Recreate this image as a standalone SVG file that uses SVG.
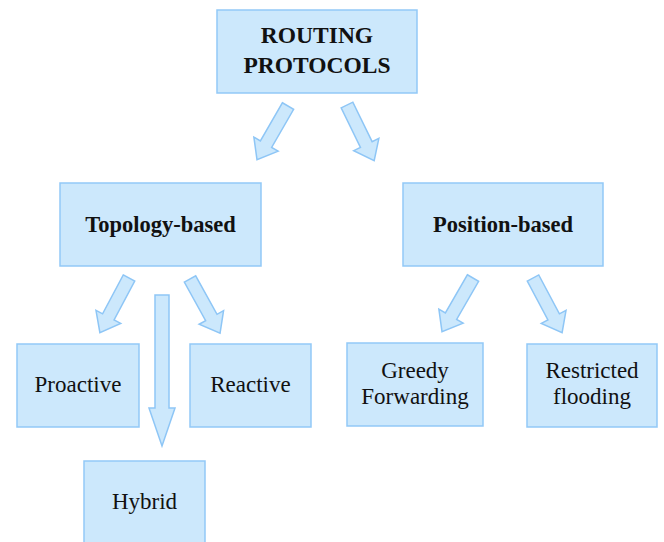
<svg xmlns="http://www.w3.org/2000/svg" width="664" height="542" viewBox="0 0 664 542">
<defs>
<style>
.box{fill:#cce8fc;stroke:#92c9f7;stroke-width:1.5}
.arr{fill:#cce8fc;stroke:#8ec6f6;stroke-width:1.5;stroke-linejoin:miter}
text{font-family:'Liberation Serif','DejaVu Serif',serif;fill:#111;text-anchor:middle}
.b{font-weight:bold;font-size:22.5px}
.t{font-weight:bold;font-size:23.5px}
.r{font-size:23px}
</style>
<polygon id="da" points="-6.5,0 6.5,0 6.5,44 14,44 0,62 -14,44 -6.5,44"/>
</defs>
<rect width="664" height="542" fill="#ffffff"/>
<g id="connectors">
<use href="#da" class="arr" transform="translate(288,106) rotate(30)"/>
<use href="#da" class="arr" transform="translate(347,105) rotate(-26)"/>
<use href="#da" class="arr" transform="translate(129,278) rotate(28)"/>
<use href="#da" class="arr" transform="translate(190,279) rotate(-29)"/>
<use href="#da" class="arr" transform="translate(473,278) rotate(30)"/>
<use href="#da" class="arr" transform="translate(533,278) rotate(-28)"/>
<polygon class="arr" points="155,295 169,295 169,408 175,408 162,446 149,408 155,408"/>
</g>
<g id="routing">
<rect class="box" x="217" y="10" width="200" height="83"/>
<text class="t" x="317" y="43">ROUTING</text>
<text class="t" x="317" y="73">PROTOCOLS</text>
</g>
<g id="topology">
<rect class="box" x="60" y="183" width="201" height="83"/>
<text class="b" x="160.5" y="232">Topology-based</text>
</g>
<g id="position">
<rect class="box" x="403" y="183" width="200" height="83"/>
<text class="b" x="503" y="232">Position-based</text>
</g>
<g id="proactive">
<rect class="box" x="17" y="344" width="122" height="83"/>
<text class="r" x="78" y="392">Proactive</text>
</g>
<g id="reactive">
<rect class="box" x="190" y="344" width="121" height="83"/>
<text class="r" x="250.5" y="392">Reactive</text>
</g>
<g id="hybrid">
<rect class="box" x="84" y="461" width="121" height="88"/>
<text class="r" x="144.5" y="509">Hybrid</text>
</g>
<g id="greedy">
<rect class="box" x="347" y="343" width="136" height="83"/>
<text class="r" x="415" y="378">Greedy</text>
<text class="r" x="415" y="404">Forwarding</text>
</g>
<g id="restricted">
<rect class="box" x="527" y="344" width="130" height="83"/>
<text class="r" x="592" y="378">Restricted</text>
<text class="r" x="592" y="404">flooding</text>
</g>
</svg>
